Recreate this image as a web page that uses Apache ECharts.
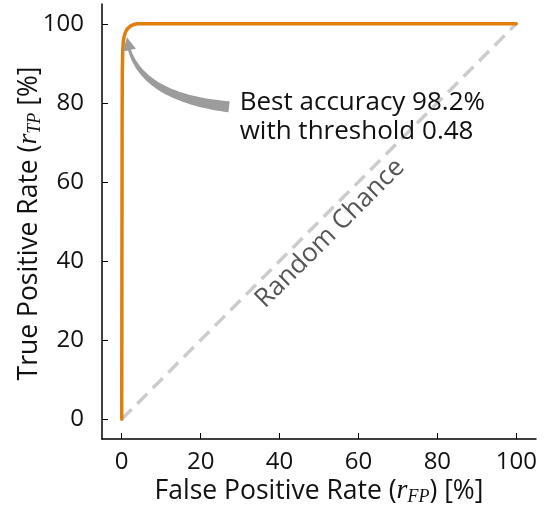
<!DOCTYPE html>
<html>
<head>
<meta charset="utf-8">
<script src="https://cdn.jsdelivr.net/npm/echarts@6/dist/echarts.min.js"></script>
<style>
  html, body { margin: 0; padding: 0; background: #fff; }
  #chart { width: 546px; height: 511px; }
</style>
</head>
<body>
<div id="chart"></div>
<script>
// ROC curve of the classifier (rates in percent)
const fpr = [0, 0.05, 0.1, 0.15, 0.25, 0.4, 0.6, 1.0, 1.5, 2.2, 3.0, 4.0, 5.0, 100];
const tpr = [0, 40, 75, 88, 93, 95.5, 96.8, 98, 98.8, 99.4, 99.8, 100, 100, 100];

// Random-chance reference diagonal
const chanceX = [0, 100];
const chanceY = [0, 100];

// Tick positions shared by both axes
const ticks = [0, 20, 40, 60, 80, 100];

// Annotation anchors in data space: arrow tip, bend and tail, and text positions
const arrowTip = [1.3, 96.6];
const arrowBend = [3.0, 81.6];
const arrowTail = [27.2, 79.0];
const noteText = 'Best accuracy 98.2%\nwith threshold 0.48';
const notePos = [29.9, 76.4];
const chanceText = 'Random Chance';
const chancePos = [52.8, 47.0];

const FONT = 'Open Sans';
const chart = echarts.init(document.getElementById('chart'), null, { renderer: 'canvas' });

const rocData = fpr.map((x, i) => [x, tpr[i]]);
const chanceData = chanceX.map((x, i) => [x, chanceY[i]]);

function axisCommon() {
  return {
    type: 'value',
    min: -5,
    max: 105,
    splitLine: { show: false },
    axisLine: { show: true, onZero: false, lineStyle: { color: '#000', width: 1.5 } },
    axisTick: { show: true, inside: true, length: 6, customValues: ticks, lineStyle: { color: '#000', width: 1 } },
    axisLabel: { customValues: ticks, color: '#111', fontFamily: FONT, fontSize: 24 },
    nameLocation: 'middle',
    nameMoveOverlap: false,
    nameTextStyle: {
      color: '#111', fontFamily: FONT, fontSize: 26.5,
      rich: {
        r: { fontFamily: 'Liberation Serif', fontStyle: 'italic', fontSize: 28, color: '#111' },
        s: { fontFamily: 'Liberation Serif', fontStyle: 'italic', fontSize: 18, color: '#111', verticalAlign: 'bottom', padding: [12, 0, 0, 0] }
      }
    }
  };
}

// Curved, tapering arrow drawn in pixel space from data anchors
function renderArrow(params, api) {
  const p0 = api.coord(arrowTail);
  const c = api.coord(arrowBend);
  const p2 = api.coord(arrowTip);
  const headLen = 13, headW = 13, tailW = 11, neckW = 3;
  const bez = t => [
    (1 - t) * (1 - t) * p0[0] + 2 * (1 - t) * t * c[0] + t * t * p2[0],
    (1 - t) * (1 - t) * p0[1] + 2 * (1 - t) * t * c[1] + t * t * p2[1]
  ];
  // find parameter where head begins
  let tHead = 1;
  for (let t = 1; t > 0; t -= 0.002) {
    const q = bez(t);
    if (Math.hypot(q[0] - p2[0], q[1] - p2[1]) >= headLen) { tHead = t; break; }
  }
  const left = [], right = [];
  const N = 40;
  for (let i = 0; i <= N; i++) {
    const t = tHead * i / N;
    const q = bez(t);
    const d = [
      2 * (1 - t) * (c[0] - p0[0]) + 2 * t * (p2[0] - c[0]),
      2 * (1 - t) * (c[1] - p0[1]) + 2 * t * (p2[1] - c[1])
    ];
    const L = Math.hypot(d[0], d[1]);
    const n = [-d[1] / L, d[0] / L];
    const w = (tailW + (neckW - tailW) * (i / N)) / 2;
    left.push([q[0] + n[0] * w, q[1] + n[1] * w]);
    right.push([q[0] - n[0] * w, q[1] - n[1] * w]);
  }
  const hb = bez(tHead);
  const hd = [p2[0] - hb[0], p2[1] - hb[1]];
  const hl = Math.hypot(hd[0], hd[1]);
  const hn = [-hd[1] / hl, hd[0] / hl];
  const pts = left.slice();
  pts.push([hb[0] + hn[0] * headW / 2, hb[1] + hn[1] * headW / 2]);
  pts.push([p2[0], p2[1]]);
  pts.push([hb[0] - hn[0] * headW / 2, hb[1] - hn[1] * headW / 2]);
  for (let i = right.length - 1; i >= 0; i--) pts.push(right[i]);
  return { type: 'polygon', shape: { points: pts }, style: { fill: '#9c9c9c' } };
}

function renderNotes(params, api) {
  const a = api.coord(notePos);
  const b = api.coord(chancePos);
  return {
    type: 'group',
    children: [
      {
        type: 'text', x: a[0], y: a[1],
        style: { text: noteText, fill: '#111', font: '26px "' + FONT + '"', align: 'left', verticalAlign: 'middle', lineHeight: 29 }
      },
      {
        type: 'text', x: b[0], y: b[1], rotation: Math.PI / 4,
        style: { text: chanceText, fill: '#555', font: '26px "' + FONT + '"', align: 'center', verticalAlign: 'middle' }
      }
    ]
  };
}

const xAxis = axisCommon();
xAxis.name = 'False Positive Rate ({r|r}{s|FP}) [%]';
xAxis.nameGap = 37;
xAxis.axisLabel.margin = 11;

const yAxis = axisCommon();
yAxis.name = 'True Positive Rate ({r|r}{s|TP} [%]';
yAxis.nameGap = 58;
yAxis.nameTextStyle.padding = [0, 4, 0, 0];
yAxis.axisLabel.margin = 18;

chart.setOption({
  animation: false,
  backgroundColor: '#fff',
  grid: { left: 102, right: 10, top: 4, bottom: 72, containLabel: false, outerBoundsMode: 'none' },
  xAxis: xAxis,
  yAxis: yAxis,
  series: [
    {
      type: 'line', data: chanceData, showSymbol: false, z: 1,
      lineStyle: { color: '#cccccc', width: 3.5, type: [14, 8] }
    },
    {
      type: 'line', data: rocData, showSymbol: false, z: 3,
      lineStyle: { color: '#e07f0d', width: 3.5, cap: 'round', join: 'round' }
    },
    {
      type: 'custom', data: [[0, 0]], renderItem: renderArrow, clip: false, z: 4, silent: true
    },
    {
      type: 'custom', data: [[0, 0]], renderItem: renderNotes, clip: false, z: 5, silent: true
    }
  ]
});
</script>
</body>
</html>
